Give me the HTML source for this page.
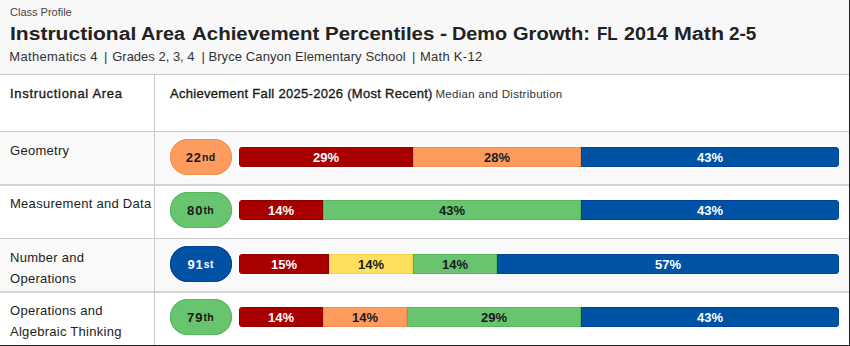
<!DOCTYPE html>
<html><head><meta charset="utf-8">
<style>
html,body{margin:0;padding:0;width:850px;height:346px;overflow:hidden;background:#fff;font-family:"Liberation Sans",sans-serif;}
#wrap{position:relative;width:850px;height:346px;}
.a{position:absolute;}
.t{position:absolute;white-space:nowrap;line-height:1;}
.tw{position:absolute;top:0;white-space:nowrap;transform-origin:0 0;}
.hdr{left:0;top:0;width:849px;height:74px;background:#f8f8f8;}
.hl{left:0;width:849px;height:1px;background:#c9c9cc;}
.vl{left:154px;width:1px;top:75px;height:270px;background:#c9c9cc;}
.rb{left:849px;top:0;width:1px;height:346px;background:#1e1e1e;}
.bb{left:0;top:345px;width:850px;height:1px;background:#1e1e1e;}
.gr{left:0;width:849px;background:#f9f9f9;}
.lbl{font-size:13px;color:#222;left:10px;letter-spacing:0.28px;}
.pill{left:169.5px;width:62px;height:36px;border-radius:18px;text-align:center;font-weight:bold;color:#1a1a1a;}
.pill.org{box-shadow:0 0 0 2px #fff,inset 0 0 0 1px #f58d4c;}
.pill.grn{box-shadow:0 0 0 2px #fff,inset 0 0 0 1px #52b85a;}
.pill.blu{box-shadow:0 0 0 2px #fff,inset 0 0 0 1px #00429c;}
.pill span.n{font-size:13px;letter-spacing:1px;}
.pill span.s{font-size:10.5px;letter-spacing:0.2px;position:relative;top:-1px;}
.bar{left:239px;width:600px;height:20px;border-radius:4px;box-shadow:0 0 0 2px #fff;overflow:hidden;display:flex;}
.seg{height:20px;text-align:center;font-weight:bold;font-size:13px;line-height:22px;color:#1a1a1a;}
.red{background:#a80000;color:#fff;box-shadow:inset 0 0 0 1px #8e0000;}
.org{background:#fe9c5f;}
.bar .org{box-shadow:inset 0 0 0 1px #f58d4c;}
.grn{background:#68c46f;}
.bar .grn{box-shadow:inset 0 0 0 1px #52b85a;}
.yel{background:#fedf5e;}
.bar .yel{box-shadow:inset 0 0 0 1px #f3d04a;}
.blu{background:#0052a5;color:#fff;}
.bar .blu{box-shadow:inset 0 0 0 1px #00429c;}
</style></head>
<body><div id="wrap">
<div class="a hdr"></div>
<div class="a hl" style="top:74px"></div>
<div class="a gr" style="top:132px;height:52px"></div>
<div class="a gr" style="top:239px;height:52px"></div>
<div class="a hl" style="top:131px"></div>
<div class="a hl" style="top:184px;height:2px;background:#d4d4d7"></div>
<div class="a hl" style="top:238px"></div>
<div class="a hl" style="top:291px;height:2px;background:#d4d4d7"></div>
<div class="a vl"></div>

<div class="t" id="cp" style="left:10px;top:7px;font-size:11px;color:#444">Class Profile</div>
<div class="t" id="title" style="left:0;top:25px;font-size:18px;font-weight:bold;color:#222"><span class="tw" style="left:9.5px;transform:scaleX(1.169)">Instructional</span><span class="tw" style="left:141.4px;transform:scaleX(1.097)">Area</span><span class="tw" style="left:191.6px;transform:scaleX(1.136)">Achievement</span><span class="tw" style="left:324.7px;transform:scaleX(1.139)">Percentiles</span><span class="tw" style="left:439.6px;transform:scaleX(1.200)">-</span><span class="tw" style="left:452.3px;transform:scaleX(1.102)">Demo</span><span class="tw" style="left:512.9px;transform:scaleX(1.115)">Growth:</span><span class="tw" style="left:597.0px;transform:scaleX(0.943)">FL</span><span class="tw" style="left:623.7px;transform:scaleX(1.097)">2014</span><span class="tw" style="left:673.8px;transform:scaleX(1.190)">Math</span><span class="tw" style="left:728.9px;transform:scaleX(1.052)">2-5</span></div>
<div class="t" id="sub" style="left:0;top:50px;font-size:13px;color:#333"><span class="tw" style="left:9.3px;letter-spacing:0.31px">Mathematics 4</span><span class="tw" style="left:104.0px;letter-spacing:0px">|</span><span class="tw" style="left:112.2px;letter-spacing:0px">Grades 2, 3, 4</span><span class="tw" style="left:201.4px;letter-spacing:0px">|</span><span class="tw" style="left:208.4px;letter-spacing:0.1px">Bryce Canyon Elementary School</span><span class="tw" style="left:412.0px;letter-spacing:0px">|</span><span class="tw" style="left:419.9px;letter-spacing:0.29px">Math K-12</span></div>

<div class="t" id="ch1" style="left:10px;top:87px;font-size:13px;color:#1a1a1a;-webkit-text-stroke:0.35px #1a1a1a;letter-spacing:0.68px">Instructional Area</div>
<div class="t" id="ch2" style="left:170px;top:87px;font-size:13px;color:#1a1a1a;-webkit-text-stroke:0.35px #1a1a1a;letter-spacing:0.3px">Achievement Fall 2025-2026 (Most Recent) <span id="ch3" style="font-size:11.5px;color:#333;-webkit-text-stroke:0;letter-spacing:0.27px;margin-left:-1.2px">Median and Distribution</span></div>

<div class="t lbl" id="r1" style="top:144px">Geometry</div>
<div class="t lbl" id="r2" style="top:197px">Measurement and Data</div>
<div class="t lbl" id="r3" style="top:251px;line-height:21px;margin-top:-4px">Number and<br>Operations</div>
<div class="t lbl" id="r4" style="top:304px;line-height:21px;margin-top:-4px">Operations and<br>Algebraic Thinking</div>

<div class="a pill org" id="p1" style="top:139px;line-height:36px"><span class="n">22</span><span class="s">nd</span></div>
<div class="a pill grn" id="p2" style="top:192px;line-height:36px"><span class="n">80</span><span class="s">th</span></div>
<div class="a pill blu" id="p3" style="top:246px;line-height:36px"><span class="n">91</span><span class="s">st</span></div>
<div class="a pill grn" id="p4" style="top:299px;line-height:36px"><span class="n">79</span><span class="s">th</span></div>

<div class="a bar" id="b1" style="top:147px">
<div class="seg red" style="width:174px">29%</div><div class="seg org" style="width:168px">28%</div><div class="seg blu" style="width:258px">43%</div>
</div>
<div class="a bar" id="b2" style="top:200px">
<div class="seg red" style="width:84px">14%</div><div class="seg grn" style="width:258px">43%</div><div class="seg blu" style="width:258px">43%</div>
</div>
<div class="a bar" id="b3" style="top:254px">
<div class="seg red" style="width:90px">15%</div><div class="seg yel" style="width:84px">14%</div><div class="seg grn" style="width:84px">14%</div><div class="seg blu" style="width:342px">57%</div>
</div>
<div class="a bar" id="b4" style="top:307px">
<div class="seg red" style="width:84px">14%</div><div class="seg org" style="width:84px">14%</div><div class="seg grn" style="width:174px">29%</div><div class="seg blu" style="width:258px">43%</div>
</div>

<div class="a rb"></div>
<div class="a bb"></div>
</div></body></html>
